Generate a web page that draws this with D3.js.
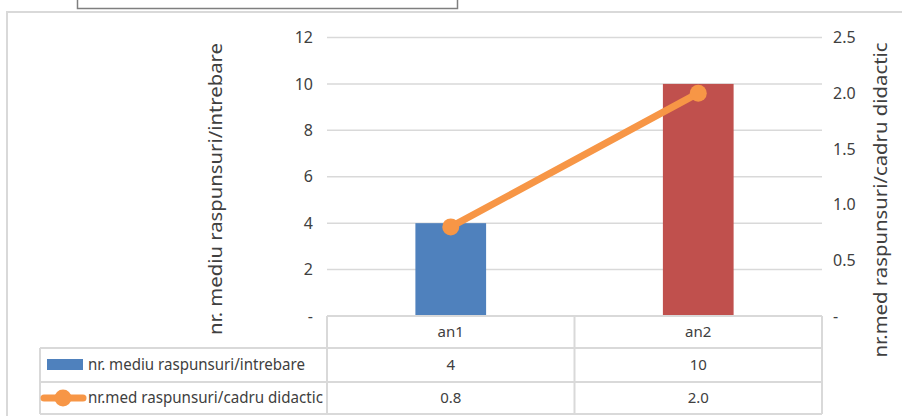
<!DOCTYPE html>
<html>
<head>
<meta charset="utf-8">
<script src="https://cdn.jsdelivr.net/npm/d3@7"></script>
<style>
  html, body { margin: 0; padding: 0; background: #fff; }
  svg { display: block; }
  text { font-family: "Noto Sans", sans-serif; fill: #404040; }
</style>
</head>
<body>
<svg id="chart" width="902" height="416"></svg>
<script>
const categories = ["an1", "an2"];
const barSeriesName = "nr. mediu raspunsuri/intrebare";
const lineSeriesName = "nr.med raspunsuri/cadru didactic";
const barValues = [4, 10];
const lineValues = [0.8, 2.0];
const barLabels = ["4", "10"];
const lineLabels = ["0.8", "2.0"];
const leftTicks = [0, 2, 4, 6, 8, 10, 12];
const rightTicks = [0, 0.5, 1.0, 1.5, 2.0, 2.5];
const barColors = ["#4F81BD", "#C0504D"];
const lineColor = "#F79646";

const svg = d3.select("#chart");
const gridColor = "#d9d9d9";
const plotL = 327, plotR = 822, plotT = 37.5, plotB = 316;

// outer chart border
svg.append("rect").attr("x", 7).attr("y", 12).attr("width", 910).attr("height", 420)
  .attr("fill", "#fff").attr("stroke", gridColor).attr("stroke-width", 2);
// top (title) box partially visible
svg.append("rect").attr("x", 77.5).attr("y", -10).attr("width", 380).attr("height", 18.5)
  .attr("fill", "#fff").attr("stroke", "#7f7f7f").attr("stroke-width", 1.5);

const x = d3.scaleBand().domain(categories).range([plotL, plotR]);
const yL = d3.scaleLinear().domain([0, 12]).range([plotB, plotT]);
const yR = d3.scaleLinear().domain([0, 2.5]).range([plotB, plotT]);

// gridlines
svg.append("g").selectAll("line").data(leftTicks.filter(d => d > 0)).join("line")
  .attr("x1", plotL).attr("x2", plotR)
  .attr("y1", d => yL(d)).attr("y2", d => yL(d))
  .attr("stroke", gridColor).attr("stroke-width", 1.5);

// left axis labels
const leftAxis = d3.axisLeft(yL).tickValues(leftTicks).tickSize(0).tickPadding(0)
  .tickFormat(d => d === 0 ? "-" : d3.format("d")(d));
const gL = svg.append("g").attr("transform", `translate(${plotL - 14},0)`).call(leftAxis);
gL.select(".domain").remove();
gL.selectAll("text").attr("font-size", 16).attr("fill", "#404040")
  .style("font-family", '"Noto Sans", sans-serif');

// right axis labels
const rightAxis = d3.axisRight(yR).tickValues(rightTicks).tickSize(0).tickPadding(0)
  .tickFormat(d => d === 0 ? "-" : d3.format(".1f")(d));
const gR = svg.append("g").attr("transform", `translate(${plotR + 11},0)`).call(rightAxis);
gR.select(".domain").remove();
gR.selectAll("text").attr("font-size", 16).attr("fill", "#404040")
  .style("font-family", '"Noto Sans", sans-serif');

// bars
const bw = x.bandwidth() / 3.5;
svg.append("g").selectAll("rect").data(categories).join("rect")
  .attr("x", (d) => x(d) + x.bandwidth() / 2 - bw / 2)
  .attr("width", bw)
  .attr("y", (d, i) => yL(barValues[i]))
  .attr("height", (d, i) => yL(0) - yL(barValues[i]))
  .attr("fill", (d, i) => barColors[i]);

// line
const pts = categories.map((c, i) => [x(c) + x.bandwidth() / 2, yR(lineValues[i])]);
svg.append("path").attr("d", d3.line()(pts)).attr("fill", "none")
  .attr("stroke", lineColor).attr("stroke-width", 7).attr("stroke-linecap", "round");
svg.append("g").selectAll("circle").data(pts).join("circle")
  .attr("cx", d => d[0]).attr("cy", d => d[1]).attr("r", 8.5).attr("fill", lineColor);

// data table
const tblL = 40, rowTops = [316, 348, 382, 414];
const tg = svg.append("g").attr("stroke", gridColor).attr("stroke-width", 2).attr("fill", "none");
tg.append("line").attr("x1", plotL).attr("x2", plotR).attr("y1", rowTops[0]).attr("y2", rowTops[0]);
[1, 2, 3].forEach(k => tg.append("line").attr("x1", tblL).attr("x2", plotR)
  .attr("y1", rowTops[k]).attr("y2", rowTops[k]));
const colEdges = [plotL, ...categories.map(c => x(c) + x.bandwidth())];
colEdges.forEach(cx => tg.append("line").attr("x1", cx).attr("x2", cx)
  .attr("y1", rowTops[0]).attr("y2", rowTops[3]));
tg.append("line").attr("x1", tblL).attr("x2", tblL).attr("y1", rowTops[1]).attr("y2", rowTops[3]);

const cellText = (txt, cx, r) => svg.append("text").attr("x", cx)
  .attr("y", (rowTops[r] + rowTops[r + 1]) / 2).attr("dy", "0.35em")
  .attr("text-anchor", "middle").attr("font-size", 15).attr("fill", "#303030").text(txt);
categories.forEach((c, i) => {
  const cx = x(c) + x.bandwidth() / 2;
  cellText(c, cx, 0);
  cellText(barLabels[i], cx, 1);
  cellText(lineLabels[i], cx, 2);
});

// legend keys in table
const r1y = (rowTops[1] + rowTops[2]) / 2, r2y = (rowTops[2] + rowTops[3]) / 2;
svg.append("rect").attr("x", 47).attr("y", r1y - 6).attr("width", 36).attr("height", 11)
  .attr("fill", barColors[0]);
svg.append("line").attr("x1", 44).attr("x2", 83).attr("y1", r2y).attr("y2", r2y)
  .attr("stroke", lineColor).attr("stroke-width", 7).attr("stroke-linecap", "round");
svg.append("circle").attr("cx", 63).attr("cy", r2y).attr("r", 8.5).attr("fill", lineColor);
svg.append("text").attr("x", 88).attr("y", r1y).attr("dy", "0.35em").attr("font-size", 15.5)
  .attr("fill", "#303030").attr("textLength", 217).attr("lengthAdjust", "spacingAndGlyphs")
  .text(barSeriesName);
svg.append("text").attr("x", 88).attr("y", r2y).attr("dy", "0.35em").attr("font-size", 15.5)
  .attr("fill", "#303030").attr("textLength", 235).attr("lengthAdjust", "spacingAndGlyphs")
  .text(lineSeriesName);

// axis titles
svg.append("text").attr("transform", "translate(222,189) rotate(-90)")
  .attr("text-anchor", "middle").attr("font-size", 18).attr("fill", "#000")
  .attr("textLength", 292).attr("lengthAdjust", "spacingAndGlyphs")
  .text(barSeriesName);
svg.append("text").attr("transform", "translate(887,200) rotate(-90)")
  .attr("text-anchor", "middle").attr("font-size", 18).attr("fill", "#000")
  .attr("textLength", 315).attr("lengthAdjust", "spacingAndGlyphs")
  .text(lineSeriesName);
</script>
</body>
</html>
